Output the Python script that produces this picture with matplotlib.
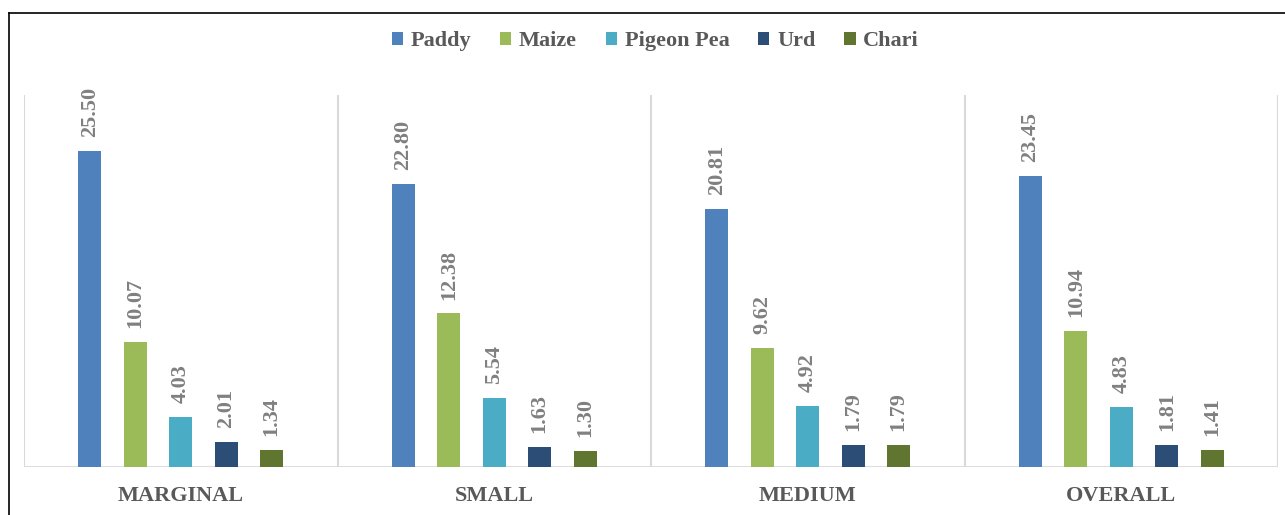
import numpy as np
import matplotlib
matplotlib.use("Agg")
import matplotlib.pyplot as plt
from matplotlib.lines import Line2D

# farm size classes and crop shares
groups = ["MARGINAL", "SMALL", "MEDIUM", "OVERALL"]
crops = ["Paddy", "Maize", "Pigeon Pea", "Urd", "Chari"]
paddy = [25.50, 22.80, 20.81, 23.45]
maize = [10.07, 12.38, 9.62, 10.94]
pigeon_pea = [4.03, 5.54, 4.92, 4.83]
urd = [2.01, 1.63, 1.79, 1.81]
chari = [1.34, 1.30, 1.79, 1.41]
colors = ["#4F81BD", "#9BBB59", "#4BACC6", "#2C4D75", "#5F7530"]

series = [paddy, maize, pigeon_pea, urd, chari]

plt.rcParams["font.family"] = ["Liberation Serif", "DejaVu Serif"]

fig = plt.figure(figsize=(12.85, 5.15), dpi=100)
ax = fig.add_axes([0.0187, 0.0932, 0.9759, 0.7223])

x = np.arange(len(groups))
spacing = 0.145
width = 0.074
for i, (name, vals, c) in enumerate(zip(crops, series, colors)):
    pos = x + (i - 2) * spacing
    bars = ax.bar(pos, vals, width, color=c, label=name, zorder=3)
    for b, v in zip(bars, vals):
        ax.annotate(f"{v:.2f}", (b.get_x() + b.get_width() / 2, v),
                    xytext=(0, 10), textcoords="offset points",
                    rotation=90, ha="center", va="bottom",
                    fontsize=16, fontweight="bold", color="#808080")

ax.set_xlim(-0.5, len(groups) - 0.5)
ax.set_ylim(0, 30)

# group separators
for b in np.arange(-0.5, len(groups), 1.0):
    ax.axvline(b, color="#D9D9D9", lw=1.5, zorder=1)
ax.axhline(0, color="#D9D9D9", lw=2, zorder=2)

for s in ax.spines.values():
    s.set_visible(False)
ax.set_yticks([])
ax.set_xticks(x)
ax.set_xticklabels(groups, fontsize=16, fontweight="bold", color="#595959")
ax.tick_params(axis="x", length=0, pad=14)

fig.legend(loc="center", bbox_to_anchor=(0.51, 0.92), ncol=5, frameon=False,
           prop={"size": 16, "weight": "bold"}, labelcolor="#595959",
           handlelength=0.5, handleheight=0.5, handletextpad=0.35,
           columnspacing=1.3)

# outer frame: top and left edges only
fig.add_artist(Line2D([0.007, 1.0], [0.975, 0.975], transform=fig.transFigure,
                      color="black", lw=1.2))
fig.add_artist(Line2D([0.007, 0.007], [0.0, 0.975], transform=fig.transFigure,
                      color="black", lw=1.2))

fig.savefig("out.png", dpi=100)
